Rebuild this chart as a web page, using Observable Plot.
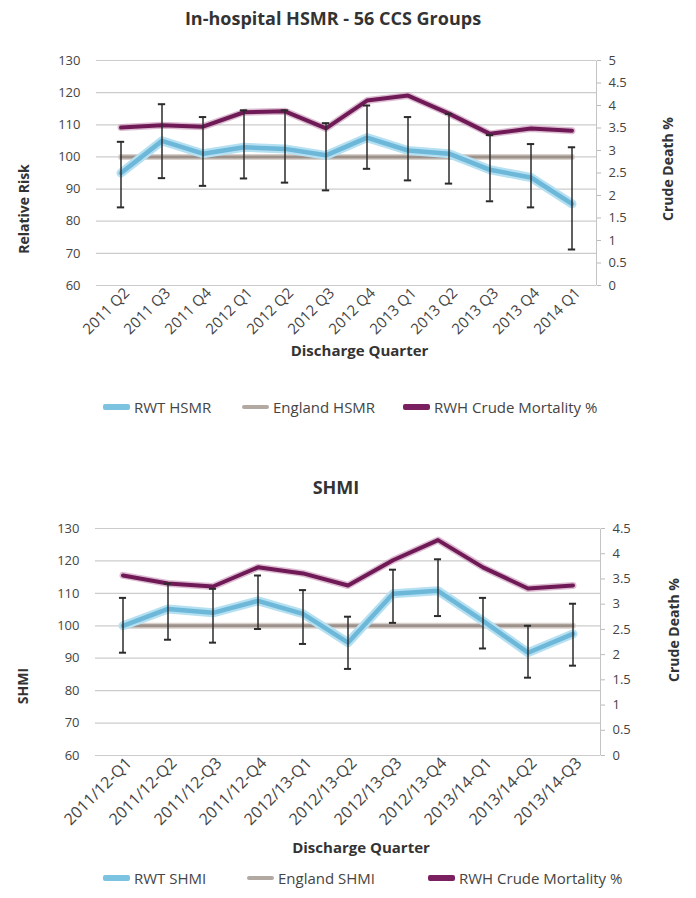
<!DOCTYPE html>
<html>
<head>
<meta charset="utf-8">
<script src="https://cdn.jsdelivr.net/npm/d3@7"></script>
<script src="https://cdn.jsdelivr.net/npm/@observablehq/plot@0.6"></script>
<style>
  html, body { margin: 0; padding: 0; background: #fff; }
  body { width: 696px; height: 898px; position: relative; font-family: "Open Sans", sans-serif; color: #333; overflow: hidden; }
  .title { position: absolute; font-weight: bold; font-size: 18px; color: #333; transform: translateX(-50%); white-space: nowrap; line-height: 24px; }
  .panel { position: absolute; left: 0; }
  .leg { position: absolute; font-size: 15px; color: #444; white-space: nowrap; display: flex; align-items: center; line-height: 20px; }
  .sw { display: inline-block; width: 27px; margin-right: 4px; border-radius: 2px; }
</style>
</head>
<body>
<div class="title" style="left:333px; top:6px;">In-hospital HSMR - 56 CCS Groups</div>
<div class="panel" id="top" style="top:40px;"></div>
<div class="leg" style="left:103px; top:397px;"><span class="sw" style="height:6px;background:#7cc3e2;"></span>RWT HSMR</div>
<div class="leg" style="left:242px; top:397px;"><span class="sw" style="height:4px;background:#b3a9a3;"></span>England HSMR</div>
<div class="leg" style="left:403px; top:397px;"><span class="sw" style="height:6px;background:#7a2060;"></span>RWH Crude Mortality %</div>

<div class="title" style="left:336px; top:475px;">SHMI</div>
<div class="panel" id="bot" style="top:508px;"></div>
<div class="leg" style="left:103px; top:868px;"><span class="sw" style="height:6px;background:#7cc3e2;"></span>RWT SHMI</div>
<div class="leg" style="left:247px; top:868px;"><span class="sw" style="height:4px;background:#b3a9a3;"></span>England SHMI</div>
<div class="leg" style="left:428px; top:868px;"><span class="sw" style="height:6px;background:#7a2060;"></span>RWH Crude Mortality %</div>

<script>
// ---------- Data: In-hospital HSMR ----------
const hsmrQuarters = ["2011 Q2","2011 Q3","2011 Q4","2012 Q1","2012 Q2","2012 Q3","2012 Q4","2013 Q1","2013 Q2","2013 Q3","2013 Q4","2014 Q1"];
const rwtHsmr      = [95, 105, 101, 103, 102.5, 100.5, 106, 102, 101, 96, 93.6, 85.4];
const rwtHsmrLow   = [84.3, 93.4, 91, 93.3, 92, 89.6, 96.3, 92.7, 91.7, 86.2, 84.3, 71.2];
const rwtHsmrHigh  = [104.7, 116.4, 112.4, 114.5, 114.5, 110.5, 116, 112.4, 113.4, 106.8, 104, 103];
const englandHsmr  = [100, 100, 100, 100, 100, 100, 100, 100, 100, 100, 100, 100];
const crudeHsmr    = [3.51, 3.56, 3.53, 3.85, 3.87, 3.49, 4.11, 4.22, 3.82, 3.37, 3.49, 3.44];
const hsmrLeftTicks  = [60, 70, 80, 90, 100, 110, 120, 130];
const hsmrRightTicks = [0, 0.5, 1, 1.5, 2, 2.5, 3, 3.5, 4, 4.5, 5];

// ---------- Data: SHMI ----------
const shmiQuarters = ["2011/12-Q1","2011/12-Q2","2011/12-Q3","2011/12-Q4","2012/13-Q1","2012/13-Q2","2012/13-Q3","2012/13-Q4","2013/14-Q1","2013/14-Q2","2013/14-Q3"];
const rwtShmi      = [100, 105.2, 104, 107.7, 103.7, 94.8, 109.9, 110.8, 101.5, 91.7, 97.5];
const rwtShmiLow   = [91.7, 95.7, 94.8, 99, 94.4, 86.7, 100.9, 103, 93, 84, 87.7];
const rwtShmiHigh  = [108.6, 113, 111.4, 115.5, 111, 102.8, 117.3, 120.5, 108.6, 100, 106.8];
const englandShmi  = [100, 100, 100, 100, 100, 100, 100, 100, 100, 100, 100];
const crudeShmi    = [3.57, 3.41, 3.35, 3.73, 3.61, 3.37, 3.87, 4.27, 3.73, 3.31, 3.37];
const shmiLeftTicks  = [60, 70, 80, 90, 100, 110, 120, 130];
const shmiRightTicks = [0, 0.5, 1, 1.5, 2, 2.5, 3, 3.5, 4, 4.5];

function panel(cfg) {
  const {quarters, rwt, lo, hi, eng, crude, leftTicks, rightTicks, leftTitle,
         ml, mr, mt, mb, plotH, rightMax, leftDy, rightDx, rightDy, xFont, xDx, capW, xTitleDy} = cfg;
  const lmin = d3.min(leftTicks), lmax = d3.max(leftTicks);
  const toLeft = r => lmin + r * (lmax - lmin) / rightMax;
  const fromLeft = v => Math.round(((v - lmin) * rightMax / (lmax - lmin)) * 10) / 10;
  const rows = quarters.map((q, i) => ({q, rwt: rwt[i], lo: lo[i], hi: hi[i], eng: eng[i], crude: toLeft(crude[i])}));
  const W = 696, H = mt + plotH + mb;
  const fw = W - ml - mr;
  const capInset = (fw / quarters.length - capW) / 2;
  return Plot.plot({
    width: W, height: H,
    marginLeft: ml, marginRight: mr, marginTop: mt, marginBottom: mb,
    style: {fontFamily: "Open Sans, sans-serif", fontSize: "13px", color: "#444", background: "transparent"},
    x: {type: "band", domain: quarters, padding: 0},
    y: {domain: [lmin, lmax]},
    marks: [
      Plot.gridY(leftTicks, {stroke: "#cccccc", strokeOpacity: 1, strokeWidth: 1.2}),
      Plot.frame({stroke: "#c4c4c4", strokeDasharray: `0 ${fw} ${plotH} ${fw + plotH}`}),
      Plot.axisY(leftTicks, {anchor: "left", tickSize: 0, tickPadding: 16, fontSize: 13, label: null}),
      Plot.axisY(rightTicks.map(toLeft), {anchor: "right", tickSize: 4, tickPadding: 8, stroke: "#bbb", fontSize: 13, label: null, tickFormat: v => String(fromLeft(v))}),
      Plot.axisX(quarters, {tickRotate: -45, tickSize: 0, tickPadding: 5, dx: xDx, fontSize: xFont, label: null}),
      Plot.lineY(rows, {x: "q", y: "eng", stroke: "#d8d0cb", strokeWidth: 6}),
      Plot.lineY(rows, {x: "q", y: "eng", stroke: "#9c918b", strokeWidth: 3}),
      Plot.lineY(rows, {x: "q", y: "rwt", stroke: "#b5e0f2", strokeWidth: 9, strokeLinejoin: "round"}),
      Plot.lineY(rows, {x: "q", y: "rwt", stroke: "#6db7d8", strokeWidth: 4.5, strokeLinejoin: "round"}),
      Plot.lineY(rows, {x: "q", y: "crude", stroke: "#c78fb4", strokeWidth: 7, strokeOpacity: 0.6, strokeLinejoin: "round"}),
      Plot.lineY(rows, {x: "q", y: "crude", stroke: "#6f1a56", strokeWidth: 4, strokeLinejoin: "round"}),
      Plot.ruleX(rows, {x: "q", y1: "lo", y2: "hi", stroke: "#2b2b2b", strokeWidth: 1.5}),
      Plot.tickY(rows, {x: "q", y: "lo", stroke: "#2b2b2b", strokeWidth: 2, insetLeft: capInset, insetRight: capInset}),
      Plot.tickY(rows, {x: "q", y: "hi", stroke: "#2b2b2b", strokeWidth: 2, insetLeft: capInset, insetRight: capInset}),
      Plot.text([leftTitle], {frameAnchor: "left", textAnchor: "middle", rotate: -90, dx: -72, dy: leftDy, fontWeight: "bold", fontSize: 14, fill: "#333"}),
      Plot.text(["Crude Death %"], {frameAnchor: "right", textAnchor: "middle", rotate: -90, dx: rightDx, dy: rightDy, fontWeight: "bold", fontSize: 14, fill: "#333"}),
      Plot.text(["Discharge Quarter"], {frameAnchor: "bottom", textAnchor: "middle", dx: 13, dy: xTitleDy, fontWeight: "bold", fontSize: 15, fill: "#333"})
    ]
  });
}

document.getElementById("top").appendChild(panel({
  quarters: hsmrQuarters, rwt: rwtHsmr, lo: rwtHsmrLow, hi: rwtHsmrHigh, eng: englandHsmr, crude: crudeHsmr,
  leftTicks: hsmrLeftTicks, rightTicks: hsmrRightTicks, leftTitle: "Relative Risk",
  ml: 96, mr: 100, mt: 20, mb: 90, plotH: 225, rightMax: 5, leftDy: 36, rightDx: 72, rightDy: -4,
  xFont: 15, xDx: 6, capW: 8, xTitleDy: 70
}));

document.getElementById("bot").appendChild(panel({
  quarters: shmiQuarters, rwt: rwtShmi, lo: rwtShmiLow, hi: rwtShmiHigh, eng: englandShmi, crude: crudeShmi,
  leftTicks: shmiLeftTicks, rightTicks: shmiRightTicks, leftTitle: "SHMI",
  ml: 95, mr: 96, mt: 20, mb: 112, plotH: 227, rightMax: 4.5, leftDy: 44, rightDx: 74, rightDy: -12,
  xFont: 16, xDx: 6, capW: 8, xTitleDy: 97
}));
</script>
</body>
</html>
